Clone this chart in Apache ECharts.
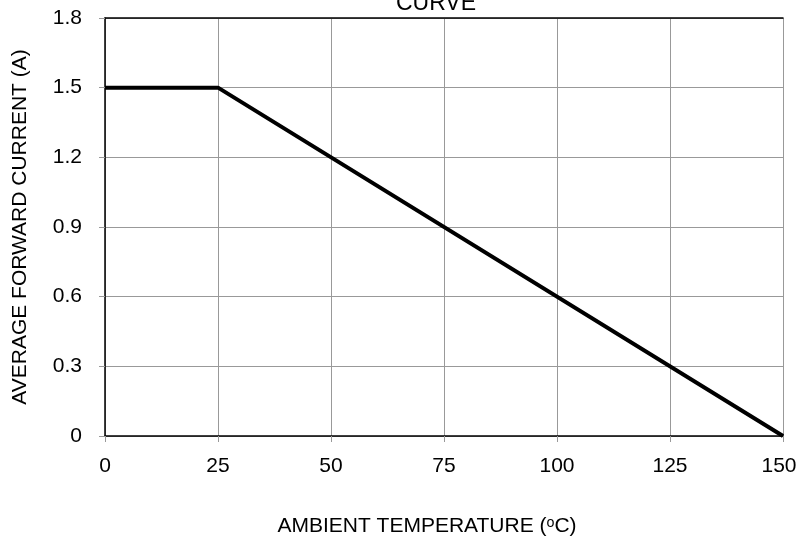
<!DOCTYPE html>
<html>
<head>
<meta charset="utf-8">
<script src="https://cdn.jsdelivr.net/npm/echarts@6/dist/echarts.min.js"></script>
<style>
  html, body { margin: 0; padding: 0; background: #fff; }
  #chart { width: 798px; height: 545px; }
</style>
</head>
<body>
<div id="chart"></div>
<script>
const temps = [0, 25, 150]
const currents = [1.5, 1.5, 0]
const xTicks = [0, 25, 50, 75, 100, 125, 150]
const yTicks = [0, 0.3, 0.6, 0.9, 1.2, 1.5, 1.8]

const font = 'Liberation Sans, Arial, sans-serif'
const chart = echarts.init(document.getElementById('chart'))

chart.setOption({
  animation: false,
  title: {
    text: 'CURVE',
    left: 436,
    textAlign: 'center',
    top: -8,
    padding: 0,
    textStyle: { fontFamily: font, fontSize: 23, fontWeight: 'normal', color: '#000' }
  },
  grid: { left: 105, right: 15, top: 18, bottom: 109, outerBoundsMode: 'none', containLabel: false },
  xAxis: [{
    type: 'value',
    min: 0, max: 150, interval: 25,
    name: 'AMBIENT TEMPERATURE (ᵒC)',
    nameLocation: 'middle',
    nameGap: 80,
    nameTextStyle: { fontFamily: font, fontSize: 21, color: '#000', padding: [0, 34, 0, 0] },
    axisLine: { lineStyle: { color: '#000', width: 1.5 } },
    axisTick: { show: true, length: 6, lineStyle: { color: '#999' } },
    axisLabel: { fontFamily: font, fontSize: 21, color: '#000', margin: 20,
      formatter: v => v === 150 ? '{m|150}' : (xTicks.includes(v) ? String(v) : ''),
      rich: { m: { fontFamily: font, fontSize: 21, color: '#000', padding: [0, 8, 0, 0] } } },
    splitLine: { show: true, lineStyle: { color: '#999', width: 1 } }
  }, {
    type: 'value', position: 'top',
    min: 0, max: 150,
    axisLine: { show: true, lineStyle: { color: '#000', width: 1.5 } },
    axisTick: { show: false }, axisLabel: { show: false }, splitLine: { show: false }
  }],
  yAxis: {
    type: 'value',
    min: 0, max: 1.8, interval: 0.3,
    name: 'AVERAGE FORWARD CURRENT (A)',
    nameLocation: 'middle',
    nameGap: 74,
    nameTextStyle: { fontFamily: font, fontSize: 21, color: '#000' },
    axisLine: { show: true, lineStyle: { color: '#000', width: 1.5 } },
    axisTick: { show: true, length: 6, lineStyle: { color: '#999' } },
    axisLabel: { fontFamily: font, fontSize: 21, color: '#000', margin: 23,
      formatter: v => {
        const t = yTicks.find(y => Math.abs(y - v) < 1e-6)
        return t === undefined ? '' : (t === 0 ? '0' : t.toFixed(1))
      } },
    splitLine: { show: true, lineStyle: { color: '#999', width: 1 } }
  },
  series: [{
    type: 'line',
    data: temps.map((t, i) => [t, currents[i]]),
    showSymbol: false,
    lineStyle: { color: '#000', width: 4 }
  }]
})
</script>
</body>
</html>
